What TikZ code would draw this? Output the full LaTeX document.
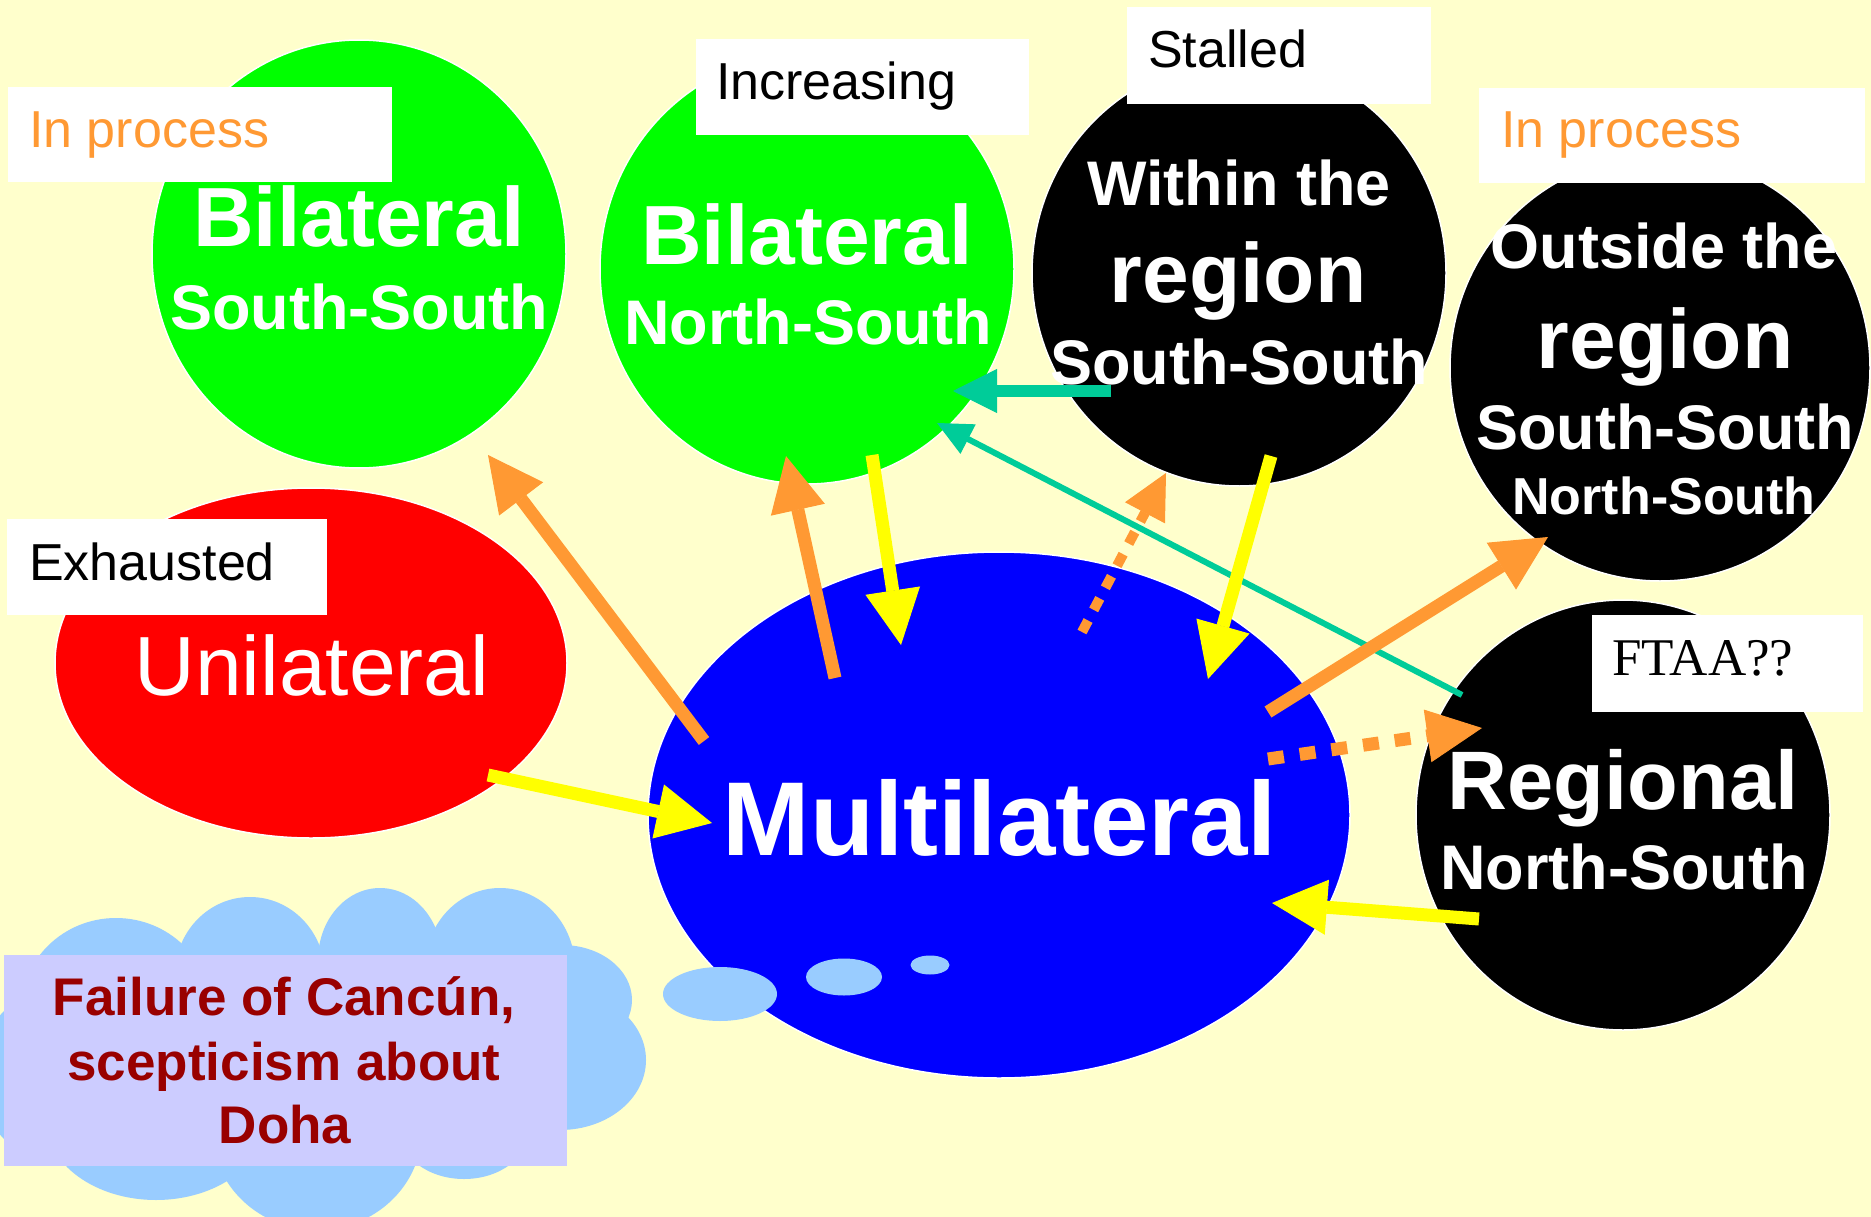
\documentclass[tikz,border=0pt]{standalone}
\usepackage{fontspec}
\setmainfont{Liberation Sans}
\newfontfamily\ftaafont{Liberation Serif}
\usetikzlibrary{shapes.geometric,arrows.meta}
\newcommand\myfs[1]{\fontsize{#1}{#1}\selectfont}
\definecolor{bgc}{HTML}{FFFFCC}
\definecolor{grn}{HTML}{00FF00}
\definecolor{rd}{HTML}{FF0000}
\definecolor{bl}{HTML}{0000FF}
\definecolor{cloudc}{HTML}{99CCFF}
\definecolor{lav}{HTML}{CCCCFF}
\definecolor{dred}{HTML}{990000}
\definecolor{org}{HTML}{FF9933}
\definecolor{yel}{HTML}{FFFF00}
\definecolor{teal2}{HTML}{00CC99}
\begin{document}
\begin{tikzpicture}[x=1pt,y=-1pt,
  blob/.style={ellipse, inner sep=0pt, draw=white, line width=1.5pt},
  wtxt/.style={text=white, anchor=base, inner sep=0pt, font=\bfseries\myfs{#1}},
  rtxt/.style={text=white, anchor=base, inner sep=0pt, font=\myfs{#1}},
  ftxt/.style={text=dred, anchor=base, inner sep=0pt, font=\bfseries\myfs{53}},
  lbox/.style={fill=white, inner sep=0pt, anchor=north west},
  ltxt/.style={anchor=base west, inner sep=0pt, font=\myfs{52}},
  oar/.style={draw=org, line width=13pt, -{Triangle[length=55pt,width=55pt,line width=1pt]}},
  yar/.style={draw=yel, line width=13pt, -{Triangle[length=55pt,width=55pt,line width=1pt]}},
  tar/.style={draw=teal2, line width=12pt, -{Triangle[length=44pt,width=44pt,line width=1pt]}},
  tthin/.style={draw=teal2, line width=6pt, -{Triangle[length=35pt,width=33pt,line width=1pt]}},
  odash/.style={draw=org, dash pattern=on 13pt off 12pt}
]
% background
\fill[bgc] (0,0) rectangle (1871,1217);
\useasboundingbox (0,0) rectangle (1871,1217);

% cloud
\begin{scope}[cloudc]
\fill (116,1010) ellipse [x radius=95pt, y radius=92pt];
\fill (250,975) ellipse [x radius=75pt, y radius=78pt];
\fill (380,960) ellipse [x radius=62pt, y radius=72pt];
\fill (500,968) ellipse [x radius=75pt, y radius=80pt];
\fill (562,1000) ellipse [x radius=70pt, y radius=55pt];
\fill (560,1060) ellipse [x radius=86pt, y radius=70pt];
\fill (464,1130) ellipse [x radius=65pt, y radius=49pt];
\fill (317,1130) ellipse [x radius=105pt, y radius=100pt];
\fill (156,1120) ellipse [x radius=110pt, y radius=80pt];
\fill (40,1075) ellipse [x radius=60pt, y radius=80pt];
\fill (60,980) rectangle (540,1160);
\end{scope}

% failure box
\node[fill=lav, inner sep=0pt, minimum width=563pt, minimum height=211pt, anchor=north west] (fail) at (4,955) {};
\node[ftxt] (fail1) at (284,1015) {Failure of Canc\'un,};
\node[ftxt] (fail2) at (284,1080) {scepticism about};
\node[ftxt] (fail3) at (285,1143) {Doha};

% ellipses
\node[blob, fill=grn, minimum width=414pt, minimum height=428pt] (bss) at (359,254) {};
\node[blob, fill=grn, minimum width=414pt, minimum height=430pt] (bns) at (807,269) {};
\node[blob, fill=black, minimum width=414pt, minimum height=426pt] (within) at (1239,273) {};
\node[blob, fill=black, minimum width=420pt, minimum height=426pt] (outside) at (1660,368) {};
\node[blob, fill=rd, minimum width=512pt, minimum height=350pt] (uni) at (311,663) {};
\node[blob, fill=bl, minimum width=702pt, minimum height=526pt] (multi) at (999,815) {};
\node[blob, fill=black, minimum width=414pt, minimum height=430pt] (regional) at (1623,815) {};

% thought bubbles
\node[ellipse, fill=cloudc, inner sep=0pt, minimum width=114pt, minimum height=54pt] (bub1) at (720,994) {};
\node[ellipse, fill=cloudc, inner sep=0pt, minimum width=76pt, minimum height=37pt] (bub2) at (844,977) {};
\node[ellipse, fill=cloudc, inner sep=0pt, minimum width=39pt, minimum height=19pt] (bub3) at (930,965) {};

% texts in ellipses
\node[wtxt=84] (bssA) at (359,247) {Bilateral};
\node[wtxt=63] (bssB) at (359,329) {South-South};
\node[wtxt=84] (bnsA) at (807,264) {Bilateral};
\node[wtxt=63] (bnsB) at (808,344) {North-South};
\node[wtxt=63] (wiA) at (1239,206) {Within the};
\node[wtxt=84] (wiB) at (1238,302) {region};
\node[wtxt=63] (wiC) at (1239,384) {South-South};
\node[wtxt=63] (ouA) at (1664,269) {Outside the};
\node[wtxt=84] (ouB) at (1665,368) {region};
\node[wtxt=63] (ouC) at (1665,449) {South-South};
\node[wtxt=52] (ouD) at (1664,514) {North-South};
\node[rtxt=84] (uniA) at (312,695) {Unilateral};
\node[wtxt=105] (multiA) at (1000,855) {Multilateral};
\node[wtxt=83] (regA) at (1623,809) {Regional};
\node[wtxt=63] (regB) at (1624,889) {North-South};

% arrow end points
\coordinate (a1s) at (704,741);  \coordinate (a1e) at (488,455);
\coordinate (a2s) at (835,678);  \coordinate (a2e) at (786,456);
\coordinate (a3s) at (872,455);  \coordinate (a3e) at (901,645);
\coordinate (a4s) at (1111,391); \coordinate (a4e) at (953,391);
\coordinate (a5s) at (1462,695); \coordinate (a5e) at (937,423);
\coordinate (a6s) at (1082,632); \coordinate (a6e) at (1166,473);
\coordinate (a7s) at (1271,456); \coordinate (a7e) at (1208,679);
\coordinate (a8s) at (1268,712); \coordinate (a8e) at (1548,537);
\coordinate (a9s) at (1268,759); \coordinate (a9e) at (1482,728);
\coordinate (a10s) at (1479,919); \coordinate (a10e) at (1272,903);
\coordinate (a11s) at (488,775); \coordinate (a11e) at (712,823);

% arrows
\draw[oar] (a1s) -- (a1e);
\draw[oar] (a2s) -- (a2e);
\draw[yar] (a3s) -- (a3e);
\draw[tar] (a4s) -- (a4e);
\draw[tthin] (a5s) -- (a5e);
\draw[odash, line width=10pt, -{Triangle[length=45pt,width=45pt,line width=1pt]}] (a6s) -- (a6e);
\draw[yar] (a7s) -- (a7e);
\draw[oar] (a8s) -- (a8e);
\draw[odash, line width=13pt, dash pattern=on 16pt off 16pt, -{Triangle[length=55pt,width=53pt,line width=1pt]}] (a9s) -- (a9e);
\draw[yar] (a10s) -- (a10e);
\draw[yar] (a11s) -- (a11e);

% label boxes
\node[lbox, minimum width=384pt, minimum height=95pt] (lip) at (8,87) {};
\node[ltxt, text=org] (liptxt) at (29,148) {In process};
\node[lbox, minimum width=333pt, minimum height=96pt] (linc) at (696,39) {};
\node[ltxt] (linctxt) at (716,100) {Increasing};
\node[lbox, minimum width=304pt, minimum height=97pt] (lsta) at (1127,7) {};
\node[ltxt] (lstatxt) at (1148,68) {Stalled};
\node[lbox, minimum width=386pt, minimum height=95pt] (rip) at (1479,88) {};
\node[ltxt, text=org] (riptxt) at (1501,148) {In process};
\node[lbox, minimum width=320pt, minimum height=96pt] (lexh) at (7,519) {};
\node[ltxt] (lexhtxt) at (29,580) {Exhausted};
\node[lbox, minimum width=271pt, minimum height=97pt] (lftaa) at (1592,615) {};
\node[ltxt, font=\ftaafont\myfs{53}] (lftaatxt) at (1612,675) {FTAA??};
\end{tikzpicture}
\end{document}
